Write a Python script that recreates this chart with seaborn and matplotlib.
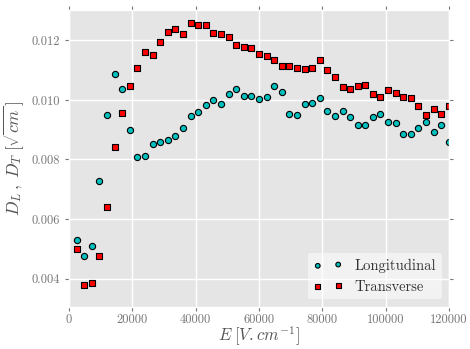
import numpy as np
import pandas as pd
import matplotlib
matplotlib.use("Agg")
import matplotlib.pyplot as plt
import seaborn as sns

# campo eléctrico (V/cm)
field = [2400 * k for k in range(1, 51)]

# difusión longitudinal y transversal
d_long = [0.00529, 0.00475, 0.00510, 0.00728, 0.00950, 0.01086, 0.01038, 0.00900, 0.00809, 0.00812,
          0.00852, 0.00858, 0.00865, 0.00879, 0.00905, 0.00947, 0.00960, 0.00983, 0.01001, 0.00985,
          0.01021, 0.01037, 0.01012, 0.01012, 0.01003, 0.01010, 0.01046, 0.01028, 0.00953, 0.00950,
          0.00988, 0.00989, 0.01006, 0.00964, 0.00946, 0.00963, 0.00943, 0.00916, 0.00916, 0.00943,
          0.00952, 0.00927, 0.00924, 0.00884, 0.00886, 0.00905, 0.00927, 0.00892, 0.00915, 0.00859]
d_trans = [0.00500, 0.00379, 0.00384, 0.00474, 0.00640, 0.00842, 0.00956, 0.01046, 0.01107, 0.01161,
           0.01151, 0.01194, 0.01228, 0.01238, 0.01222, 0.01260, 0.01251, 0.01251, 0.01224, 0.01221,
           0.01213, 0.01186, 0.01178, 0.01174, 0.01155, 0.01147, 0.01133, 0.01113, 0.01114, 0.01108,
           0.01103, 0.01107, 0.01136, 0.01102, 0.01076, 0.01045, 0.01038, 0.01046, 0.01049, 0.01019,
           0.01010, 0.01032, 0.01022, 0.01010, 0.01008, 0.00979, 0.00951, 0.00971, 0.00952, 0.00979]

plt.style.use("ggplot")
plt.rcParams["font.family"] = "serif"
plt.rcParams["font.serif"] = ["cmr10"]
plt.rcParams["mathtext.fontset"] = "cm"
plt.rcParams["axes.formatter.use_mathtext"] = True

fig = plt.figure(figsize=(4.7, 3.49), dpi=100)
ax = fig.add_axes([0.147, 0.121, 0.808, 0.850])

df = pd.DataFrame({"E": field, "DL": d_long, "DT": d_trans})

sns.scatterplot(data=df, x="E", y="DL", ax=ax, marker="o", s=20, color="#00BFBF",
                edgecolor="black", linewidth=0.8, label="Longitudinal", legend=False)
sns.scatterplot(data=df, x="E", y="DT", ax=ax, marker="s", s=20, color="red",
                edgecolor="black", linewidth=0.8, label="Transverse", legend=False)

ax.set_xlim(0, 120000)
ax.set_ylim(0.00305, 0.01302)
ax.set_xticks([0, 20000, 40000, 60000, 80000, 100000, 120000])
ax.set_yticks([0.004, 0.006, 0.008, 0.010, 0.012])
ax.xaxis.set_major_formatter(matplotlib.ticker.FuncFormatter(lambda v, p: "%d" % v))
ax.yaxis.set_major_formatter(matplotlib.ticker.FuncFormatter(lambda v, p: "%.3f" % v))
ax.tick_params(axis="both", direction="out", colors="#777777", labelsize=9,
               top=True, right=True, length=3)
ax.tick_params(axis="x", pad=2)
ax.grid(True, color="white", linewidth=1.0)

ax.set_xlabel(r"$E\;[V.cm^{-1}]$", fontsize=12, color="#555555", labelpad=-1)
ax.set_ylabel(r"$D_L\,,\;D_T\;[\sqrt{cm}\,]$", fontsize=12.5, color="#555555", labelpad=4)

leg = ax.legend(loc="lower right", scatterpoints=2, fontsize=10.5, frameon=True,
                facecolor="white", framealpha=0.5, edgecolor="none",
                borderaxespad=0.5, handletextpad=0.8, markerscale=0.75)
for t in leg.get_texts():
    t.set_color("#333333")

fig.savefig("out.png", dpi=100)
